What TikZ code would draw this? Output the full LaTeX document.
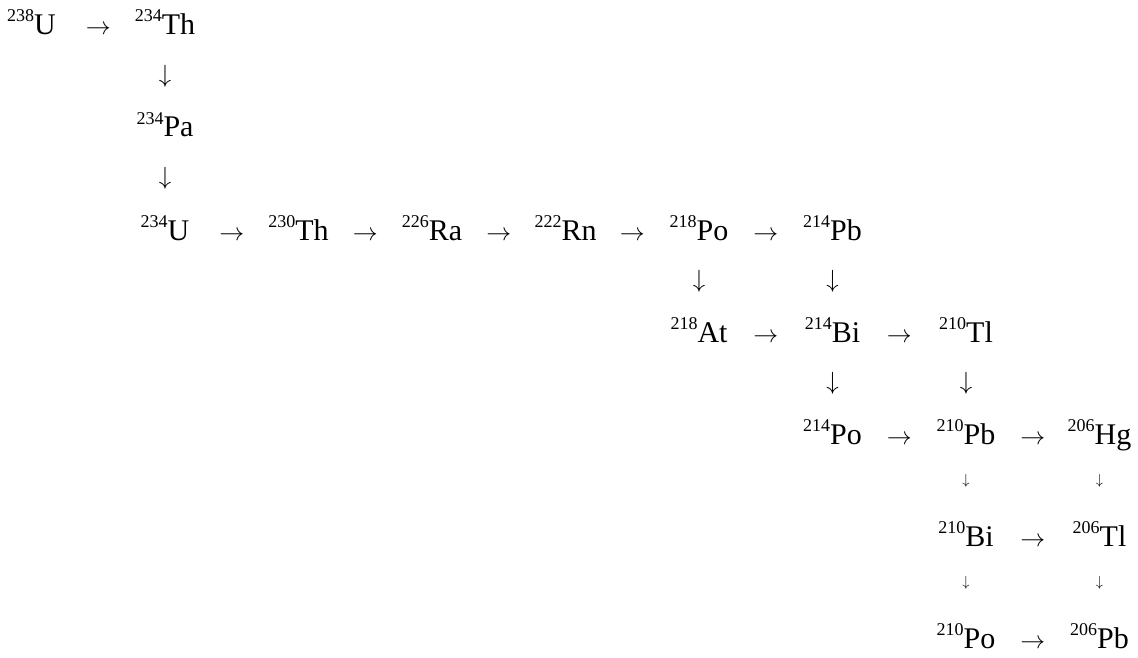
\documentclass[tikz,border=0pt]{standalone}
\usepackage{fontspec}
\setmainfont{Liberation Serif}
\newcommand\iso[2]{\raisebox{13pt}{\fontsize{18}{18}\selectfont #1}#2}
\tikzset{
  nuc/.style={inner sep=0pt, anchor=base, font=\fontsize{30}{36}\selectfont},
  harr/.style={inner sep=0pt, anchor=base, font=\fontsize{31}{36}\selectfont},
  varr/.style={inner sep=0pt, anchor=center, yshift=10pt, font=\fontsize{30}{36}\selectfont},
  sarr/.style={inner sep=0pt, anchor=center, yshift=14pt, font=\fontsize{15}{16}\selectfont},
}
\begin{document}
\begin{tikzpicture}
\useasboundingbox (0pt,0pt) rectangle (1138pt,-658pt);
% row 0
\node[nuc] (U238)  at (31.5pt,-35pt)  {\iso{238}{U}};
\node[nuc] (Th234) at (165pt,-35pt)   {\iso{234}{Th}};
% row 1
\node[nuc] (Pa234) at (165pt,-137pt)  {\iso{234}{Pa}};
% row 2
\node[nuc] (U234)  at (165pt,-240pt)  {\iso{234}{U}};
\node[nuc] (Th230) at (298.5pt,-240pt){\iso{230}{Th}};
\node[nuc] (Ra226) at (432pt,-240pt)  {\iso{226}{Ra}};
\node[nuc] (Rn222) at (565.5pt,-240pt){\iso{222}{Rn}};
\node[nuc] (Po218) at (699pt,-240pt)  {\iso{218}{Po}};
\node[nuc] (Pb214) at (832.5pt,-240pt){\iso{214}{Pb}};
% row 3
\node[nuc] (At218) at (699pt,-342pt)  {\iso{218}{At}};
\node[nuc] (Bi214) at (832.5pt,-342pt){\iso{214}{Bi}};
\node[nuc] (Tl210) at (966pt,-342pt)  {\iso{210}{Tl}};
% row 4
\node[nuc] (Po214) at (832.5pt,-444pt){\iso{214}{Po}};
\node[nuc] (Pb210) at (966pt,-444pt)  {\iso{210}{Pb}};
\node[nuc] (Hg206) at (1099.5pt,-444pt){\iso{206}{Hg}};
% row 5
\node[nuc] (Bi210) at (966pt,-546pt)  {\iso{210}{Bi}};
\node[nuc] (Tl206) at (1099.5pt,-546pt){\iso{206}{Tl}};
% row 6
\node[nuc] (Po210) at (966pt,-648pt)  {\iso{210}{Po}};
\node[nuc] (Pb206) at (1099.5pt,-648pt){\iso{206}{Pb}};
% horizontal arrows
\foreach \a/\b in {U238/Th234, U234/Th230, Th230/Ra226, Ra226/Rn222, Rn222/Po218, Po218/Pb214,
  At218/Bi214, Bi214/Tl210, Po214/Pb210, Pb210/Hg206, Bi210/Tl206, Po210/Pb206}
  \path (\a.base) -- node[harr]{$\rightarrow$} (\b.base);
% vertical arrows
\foreach \a/\b in {Th234/Pa234, Pa234/U234, Po218/At218, Pb214/Bi214, Bi214/Po214, Tl210/Pb210}
  \path (\a.base) -- node[varr]{$\downarrow$} (\b.base);
% small vertical arrows
\foreach \a/\b in {Pb210/Bi210, Bi210/Po210, Hg206/Tl206, Tl206/Pb206}
  \path (\a.base) -- node[sarr]{$\downarrow$} (\b.base);
\end{tikzpicture}
\end{document}
